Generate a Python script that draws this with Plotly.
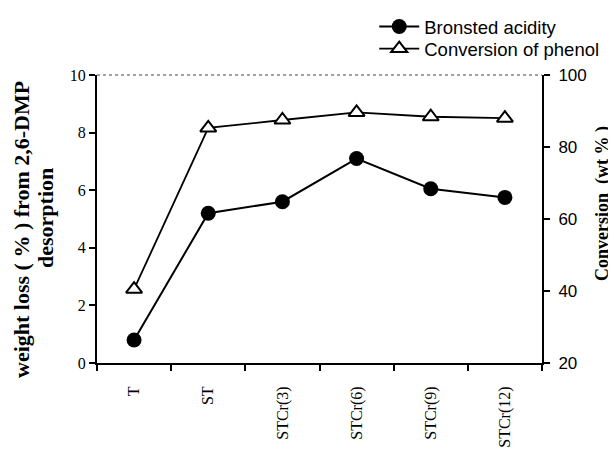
import plotly.graph_objects as go

categories = ["T", "ST", "STCr(3)", "STCr(6)", "STCr(9)", "STCr(12)"]
bronsted_acidity = [0.8, 5.2, 5.6, 7.1, 6.05, 5.75]
phenol_conversion = [40.5, 85.3, 87.5, 89.6, 88.4, 88.0]
left_ticks = [0, 2, 4, 6, 8, 10]
right_ticks = [20, 40, 60, 80, 100]

SERIF = "Liberation Serif, Times New Roman, serif"
SANS = "Liberation Sans, Arial, sans-serif"

# the page body has an 8px margin, so the figure is drawn 8px smaller
fig = go.Figure()
fig.add_trace(go.Scatter(
    x=categories, y=bronsted_acidity, name="Bronsted acidity",
    mode="lines+markers", yaxis="y", legend="legend",
    line=dict(color="black", width=2),
    marker=dict(symbol="circle", size=15, color="black"),
))
fig.add_trace(go.Scatter(
    x=categories, y=phenol_conversion, name="Conversion of phenol",
    mode="lines+markers", yaxis="y2", legend="legend2",
    line=dict(color="black", width=1.8),
    marker=dict(symbol="triangle-up", size=14, color="white",
                line=dict(color="black", width=2)),
))

legend_style = dict(xanchor="left", yanchor="top", itemwidth=40,
                    font=dict(family=SANS, size=18.5, color="black"),
                    bgcolor="rgba(0,0,0,0)", borderwidth=0)

PLOT_H = 288
TOP = 67

fig.update_layout(
    width=608, height=441,
    margin=dict(l=89, r=74, t=TOP, b=86, autoexpand=False),
    paper_bgcolor="white", plot_bgcolor="white",
    showlegend=True,
    legend=dict(x=0.623, y=1 + (TOP - 0) / PLOT_H, **legend_style),
    legend2=dict(x=0.623, y=1 + (TOP - 22) / PLOT_H, **legend_style),
    xaxis=dict(
        type="category", range=[-0.5, 5.5], automargin=False,
        tickson="boundaries", ticks="outside", ticklen=6, tickwidth=1.5,
        tickcolor="black", showline=True, linecolor="black", linewidth=2,
        showgrid=False, zeroline=False, tickangle=-90, ticklabelstandoff=15,
        tickfont=dict(family=SERIF, size=16, color="black"),
    ),
    yaxis=dict(
        range=[0, 10], tickvals=left_ticks, ticks="outside", ticklen=6,
        tickwidth=1.5, tickcolor="black", showline=True, linecolor="black",
        linewidth=2, showgrid=False, zeroline=False, automargin=False,
        tickfont=dict(family=SERIF, size=16, color="black"),
    ),
    yaxis2=dict(
        range=[20, 100], tickvals=right_ticks, overlaying="y", side="right",
        ticks="outside", ticklen=6, tickwidth=1.5, tickcolor="black",
        showline=True, linecolor="black", linewidth=2, showgrid=False,
        zeroline=False, ticklabelstandoff=5, automargin=False,
        tickfont=dict(family=SANS, size=17, color="black"),
    ),
    shapes=[dict(type="line", xref="paper", yref="paper", x0=0, x1=1, y0=1, y1=1,
                 line=dict(color="#444", width=1, dash="dot"))],
    annotations=[
        dict(text="<b>weight loss ( % ) from 2,6-DMP</b>",
             xref="paper", yref="paper", x=(21 - 97) / 445, y=(363 - 230) / 288,
             xanchor="center", yanchor="middle", textangle=-90, showarrow=False,
             font=dict(family=SERIF, size=22, color="black")),
        dict(text="<b>desorption</b>",
             xref="paper", yref="paper", x=(45 - 97) / 445, y=(363 - 218) / 288,
             xanchor="center", yanchor="middle", textangle=-90, showarrow=False,
             font=dict(family=SERIF, size=22, color="black")),
        dict(text="<b>Conversion  (wt % )</b>",
             xref="paper", yref="paper", x=(602 - 97) / 445, y=(363 - 204) / 288,
             xanchor="center", yanchor="middle", textangle=-90, showarrow=False,
             font=dict(family=SERIF, size=18, color="black")),
    ],
)

fig.write_html("out.html")
